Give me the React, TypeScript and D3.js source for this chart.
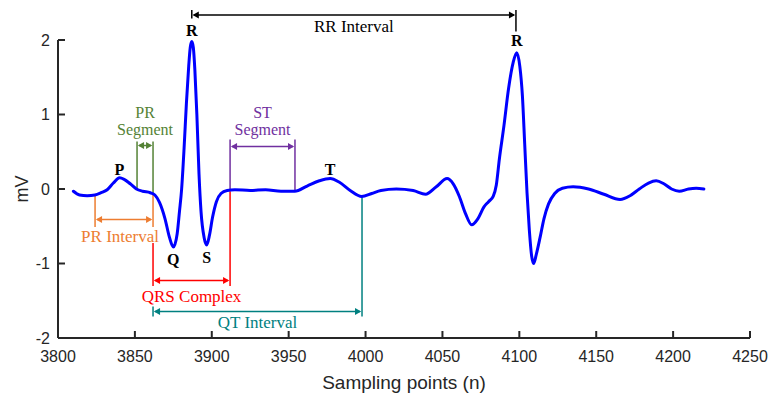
import React from "react";
import * as d3 from "d3";

// ECG trace (sampling point n, amplitude in mV)
const ecgN = [3810,3814,3819,3824,3828,3832,3836,3840,3843,3847,3851,3855,3860,3863,3866,3869.6,3872.5,3875,3877.5,3879,3880.4,3882,3883.5,3885,3886,3887,3888,3889,3890.3,3891.7,3893,3895,3896.7,3898.5,3900.5,3903,3906,3910,3915,3925,3935,3945,3954,3962,3970,3977,3983,3990,3997.5,4004,4010,4020,4031,4039,4046,4053,4057,4061,4065,4069,4073,4077,4080,4083,4085,4087,4090,4093,4096,4098.3,4100.3,4102,4103.5,4105,4106.5,4108,4109.3,4111,4113.5,4116,4119,4123,4128,4135,4145,4155,4165.5,4172,4178,4184,4189,4194,4199,4204,4210,4215,4220];
const ecgMV = [-0.03,-0.08,-0.09,-0.08,-0.05,-0.01,0.08,0.15,0.13,0.07,0.0,-0.03,-0.05,-0.08,-0.18,-0.4,-0.65,-0.78,-0.6,-0.3,0.0,0.55,1.15,1.65,1.9,1.98,1.9,1.6,1.0,0.2,-0.3,-0.65,-0.75,-0.62,-0.38,-0.17,-0.06,-0.02,-0.01,-0.02,-0.01,-0.03,-0.03,0.04,0.11,0.14,0.09,-0.02,-0.1,-0.06,-0.02,0.0,-0.02,-0.07,0.03,0.14,0.07,-0.1,-0.33,-0.48,-0.4,-0.24,-0.17,-0.1,0.05,0.4,0.85,1.35,1.7,1.83,1.65,1.25,0.6,-0.05,-0.55,-0.9,-1.0,-0.88,-0.65,-0.4,-0.2,-0.06,0.01,0.03,0.0,-0.07,-0.14,-0.09,0.0,0.08,0.11,0.07,0.0,-0.03,0.0,0.01,0.0];

const xTicks = [3800,3850,3900,3950,4000,4050,4100,4150,4200,4250];
const yTicks = [-2,-1,0,1,2];

// Wave labels and the sample at which each is placed
const waveNames = ["P","Q","R","S","T","R"];
const waveN = [3840,3875,3887,3896.7,3977,4098.3];
const waveMV = [0.15,-0.78,1.98,-0.75,0.14,1.83];

// Interval annotations
const intervalNames = ["RR Interval","PR Segment","ST Segment","PR Interval","QRS Complex","QT Interval"];
const intervalStart = [3887,3851.4,3911.9,3824.1,3861.8,3861.8];
const intervalEnd = [4097.8,3861.8,3954.1,3861.8,3911.9,3997.7];
const intervalColors = ["#000000","#548235","#7030A0","#ED7D31","#FF0000","#008080"];

const W = 769, H = 396;
const x = d3.scaleLinear().domain([3800, 4250]).range([58, 750]);
const y = d3.scaleLinear().domain([-2, 2]).range([338, 40]);

function curveAt(n: number): number {
  const i = Math.max(1, d3.bisectLeft(ecgN, n));
  const n0 = ecgN[i - 1], n1 = ecgN[i];
  const t = (n - n0) / (n1 - n0);
  return ecgMV[i - 1] + t * (ecgMV[i] - ecgMV[i - 1]);
}

// layout for each interval (pixels): arrow y, vertical extents (null = curve), label lines & baselines
type Lay = { ay: number; l: [number | null, number]; r: [number | null, number]; lines: string[]; base: number[]; fs: number; dx?: number };
const layouts: Lay[] = [
  { ay: 15, l: [10, 18.5], r: [10, 31.5], lines: ["RR Interval"], base: [32], fs: 17 },
  { ay: 145.5, l: [141.5, -1], r: [141.5, -1], lines: ["PR", "Segment"], base: [118, 134.5], fs: 16 },
  { ay: 146.5, l: [139.5, -1], r: [139.5, -1], lines: ["ST", "Segment"], base: [118, 134.5], fs: 16 },
  { ay: 219.5, l: [null, 227], r: [null, 227], lines: ["PR Interval"], base: [242], fs: 17, dx: -4 },
  { ay: 280.5, l: [243, 286], r: [null, 286], lines: ["QRS Complex"], base: [301.5], fs: 17 },
  { ay: 311.5, l: [306.5, 316.5], r: [null, 316.5], lines: ["QT Interval"], base: [327.5], fs: 17 },
];

function Interval({ idx }: { idx: number }) {
  const c = intervalColors[idx];
  const x1 = x(intervalStart[idx]);
  const x2 = x(intervalEnd[idx]);
  const L = layouts[idx];
  const vy = (ext: [number | null, number], n: number): [number, number] => {
    const cy = y(curveAt(n)) + 1;
    const a = ext[0] === null ? cy : ext[0];
    const b = ext[1] === -1 ? cy - 1.5 : ext[1];
    return [a, b];
  };
  const [la, lb] = vy(L.l, intervalStart[idx]);
  const [ra, rb] = vy(L.r, intervalEnd[idx]);
  const ah = 7, aw = 3.5;
  const cx = (x1 + x2) / 2 + (L.dx || 0);
  return (
    <g>
      <line x1={x1} x2={x1} y1={la} y2={lb} stroke={c} strokeWidth={1.5} />
      <line x1={x2} x2={x2} y1={ra} y2={rb} stroke={c} strokeWidth={1.5} />
      <line x1={x1 + 2} x2={x2 - 2} y1={L.ay} y2={L.ay} stroke={c} strokeWidth={1.5} />
      <path d={`M${x1 + 0.8},${L.ay} L${x1 + ah},${L.ay - aw} L${x1 + ah},${L.ay + aw} Z`} fill={c} />
      <path d={`M${x2 - 0.8},${L.ay} L${x2 - ah},${L.ay - aw} L${x2 - ah},${L.ay + aw} Z`} fill={c} />
      {L.lines.map((t, k) => (
        <text key={k} x={cx} y={L.base[k]} textAnchor="middle" fill={c}
          fontFamily="'Liberation Serif', 'Times New Roman', serif" fontSize={L.fs}>{t}</text>
      ))}
    </g>
  );
}

const waveOffsets = [-3, 18, -5, 18, -4, -7];

export default function App() {
  const line = d3.line<number>()
    .x((_, i) => x(ecgN[i]))
    .y((d) => y(d))
    .curve(d3.curveMonotoneX);
  const path = line(ecgMV) || "";
  const axisColor = "#262626";
  const sans = "'Liberation Sans', Arial, Helvetica, sans-serif";
  return (
    <svg width={W} height={H} style={{ position: "absolute", left: 0, top: 0, background: "#fff" }}>
      <rect x={0} y={0} width={W} height={H} fill="#fff" />
      {intervalNames.map((_, i) => <Interval key={i} idx={i} />)}
      <path d={path} fill="none" stroke="#0000FF" strokeWidth={3} strokeLinejoin="round" strokeLinecap="round" />
      {waveNames.map((w, i) => (
        <text key={i} x={x(waveN[i])} y={y(waveMV[i]) + waveOffsets[i]} textAnchor="middle"
          fontFamily="'Liberation Serif', 'Times New Roman', serif" fontWeight="bold" fontSize={16} fill="#000">{w}</text>
      ))}
      <line x1={x(3800)} x2={x(4250)} y1={y(-2)} y2={y(-2)} stroke={axisColor} strokeWidth={2} />
      <line x1={x(3800)} x2={x(3800)} y1={y(-2)} y2={y(2)} stroke={axisColor} strokeWidth={2} />
      {xTicks.map((t) => (
        <g key={t}>
          <line x1={x(t)} x2={x(t)} y1={y(-2)} y2={y(-2) - 7} stroke={axisColor} strokeWidth={2} />
          <text x={x(t)} y={362} textAnchor="middle" fontFamily={sans} fontSize={16} fill={axisColor}>{t}</text>
        </g>
      ))}
      {yTicks.map((t) => (
        <g key={t}>
          <line x1={x(3800)} x2={x(3800) + 7} y1={y(t)} y2={y(t)} stroke={axisColor} strokeWidth={2} />
          <text x={50} y={y(t) + 5.5} textAnchor="end" fontFamily={sans} fontSize={16} fill={axisColor}>{t}</text>
        </g>
      ))}
      <text x={404} y={389} textAnchor="middle" fontFamily={sans} fontSize={19} fill={axisColor}>Sampling points (n)</text>
      <text transform={`translate(28,${y(0)}) rotate(-90)`} textAnchor="middle" fontFamily={sans} fontSize={18} fill={axisColor}>mV</text>
    </svg>
  );
}
